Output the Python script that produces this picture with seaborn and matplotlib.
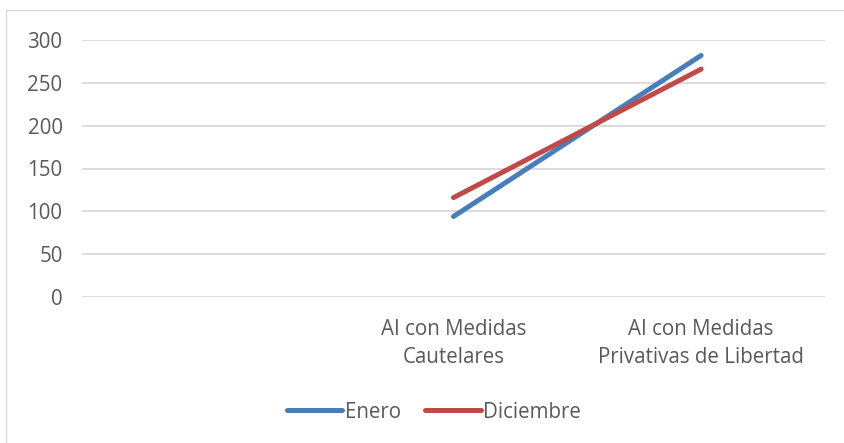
import numpy as np
import pandas as pd
import matplotlib
matplotlib.use("Agg")
import matplotlib.pyplot as plt
from matplotlib.patches import Rectangle
from matplotlib.lines import Line2D
import seaborn as sns

categories = ["", "AI con Medidas\nCautelares", "AI con Medidas\nPrivativas de Libertad"]
series = ["Enero", "Diciembre"]
enero = [np.nan, 94, 282]
diciembre = [np.nan, 116, 266]
yticks = [0, 50, 100, 150, 200, 250, 300]
colors = {"Enero": "#4A7EBB", "Diciembre": "#BE4B48"}

sns.set_theme(style="white")
plt.rcParams["font.family"] = ["Open Sans", "DejaVu Sans"]
text_color = "#595959"
fs = 14.8

rows = []
for c, e, d in zip(categories, enero, diciembre):
    if not np.isnan(e):
        rows.append({"cat": c, "mes": "Enero", "valor": e})
    if not np.isnan(d):
        rows.append({"cat": c, "mes": "Diciembre", "valor": d})
df = pd.DataFrame(rows)

fig = plt.figure(figsize=(8.45, 4.43), dpi=100)
ax = fig.add_axes([82/845, 1-297/443, (825-82)/845, (297-40)/443])

sns.pointplot(data=df, x="cat", y="valor", hue="mes", order=categories,
              hue_order=series, palette=colors, markers="", linestyles="-",
              errorbar=None, dodge=False, ax=ax, legend=False)
for ln in ax.lines:
    ln.set_linewidth(3.6)
    ln.set_solid_capstyle("round")

ax.set_ylim(0, 300)
ax.set_yticks(yticks)
ax.set_yticklabels([str(t) for t in yticks])
ax.set_xlim(-0.5, len(categories) - 0.5)
ax.set_xlabel("")
ax.set_ylabel("")
ax.grid(axis="y", color="#D9D9D9", linewidth=1.3)
ax.grid(axis="x", visible=False)
ax.set_axisbelow(True)
for s in ax.spines.values():
    s.set_visible(False)
ax.tick_params(axis="y", length=0, pad=14, labelsize=fs, labelcolor=text_color)
ax.tick_params(axis="x", length=0, pad=16, labelsize=fs, labelcolor=text_color)
for lbl in ax.get_xticklabels():
    lbl.set_linespacing(1.45)

handles = [Line2D([0], [0], color=colors[s], linewidth=3.6, solid_capstyle="round") for s in series]
leg = fig.legend(handles, series, loc="center", bbox_to_anchor=(434/845, 1-412/443),
                 ncol=2, frameon=False, fontsize=fs, handlelength=2.7,
                 handletextpad=0.12, columnspacing=1.2)
for t in leg.get_texts():
    t.set_color(text_color)

fig.patches.append(Rectangle((6/845, -0.1), 1.2, 1 - 10/443 + 0.1, transform=fig.transFigure,
                             fill=False, edgecolor="#D9D9D9", linewidth=1.0, zorder=0))

fig.savefig("out.png", dpi=100, facecolor="white")
